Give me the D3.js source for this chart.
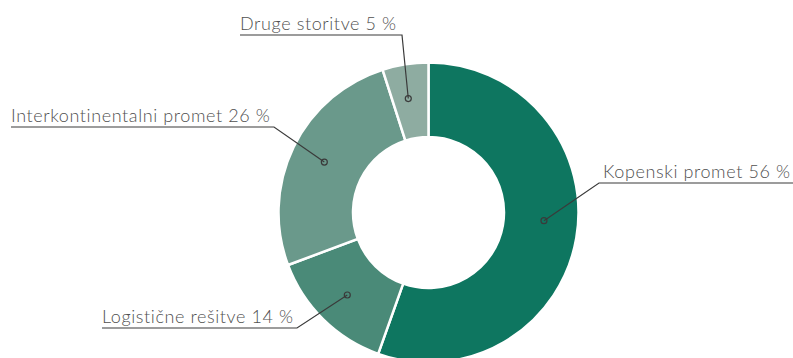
<!DOCTYPE html>
<html>
<head>
<meta charset="utf-8">
<script src="https://cdn.jsdelivr.net/npm/d3@7"></script>
<style>
  body { margin: 0; background: #fff; }
  svg { display: block; }
  .lbl { font-family: Lato, "Noto Sans", sans-serif; font-weight: 300; font-size: 18px; letter-spacing: 0.6px; fill: #505050; }
</style>
</head>
<body>
<svg id="chart"></svg>
<script>
const categories = ['Kopenski promet', 'Logistične rešitve', 'Interkontinentalni promet', 'Druge storitve'];
const shares = [56, 14, 26, 5];
const colors = ['#0e7660', '#4a8a78', '#6a998b', '#8eaca1'];

const width = 793;
const height = 358;
const cx = 428.5, cy = 212.5;
const outerR = 150, innerR = 75.5;

// where each label's underline bends (layout only)
const elbows = [
  {x: 599, y: 183, side: 'right', end: 793},
  {x: 297, y: 328, side: 'left', end: 102},
  {x: 274, y: 127, side: 'left', end: 11},
  {x: 402, y: 35, side: 'left', end: 240}
];
// small nudge of the marker angle, the big slice's dot sits a bit higher
const markerShift = [-0.1, 0, 0, -0.02];

const svg = d3.select('#chart').attr('width', width).attr('height', height);
const g = svg.append('g').attr('transform', `translate(${cx},${cy})`);

const data = categories.map((c, i) => ({name: c, value: shares[i], color: colors[i], idx: i}));

const pie = d3.pie().value(d => d.value).sort(null);
const arc = d3.arc().innerRadius(innerR).outerRadius(outerR);
const arcs = pie(data);

g.selectAll('path.slice')
    .data(arcs)
    .enter().append('path')
    .attr('class', 'slice')
    .attr('d', arc)
    .attr('fill', d => d.data.color)
    .attr('stroke', '#fff')
    .attr('stroke-width', 2.5);

// leader lines + labels
const labelGroup = svg.append('g');
arcs.forEach(function (a) {
    const i = a.data.idx;
    const mid = (a.startAngle + a.endAngle) / 2 + markerShift[i];
    const r = (innerR + outerR) / 2 + 3;
    const px = cx + r * Math.sin(mid), py = cy - r * Math.cos(mid);
    const e = elbows[i];

    labelGroup.append('polyline')
        .attr('points', [[px, py], [e.x, e.y], [e.end, e.y]].map(p => p.join(',')).join(' '))
        .attr('fill', 'none')
        .attr('stroke', '#3a3a3a')
        .attr('stroke-width', 1.2);

    labelGroup.append('circle')
        .attr('cx', px).attr('cy', py).attr('r', 3)
        .attr('fill', 'none')
        .attr('stroke', '#3a3a3a')
        .attr('stroke-width', 1.2);

    const txt = a.data.name + ' ' + a.data.value + ' %';
    labelGroup.append('text')
        .attr('class', 'lbl')
        .attr('x', e.side === 'right' ? e.x + 4 : e.end)
        .attr('y', e.y - 5)
        .attr('text-anchor', 'start')
        .text(txt);
});
</script>
</body>
</html>
